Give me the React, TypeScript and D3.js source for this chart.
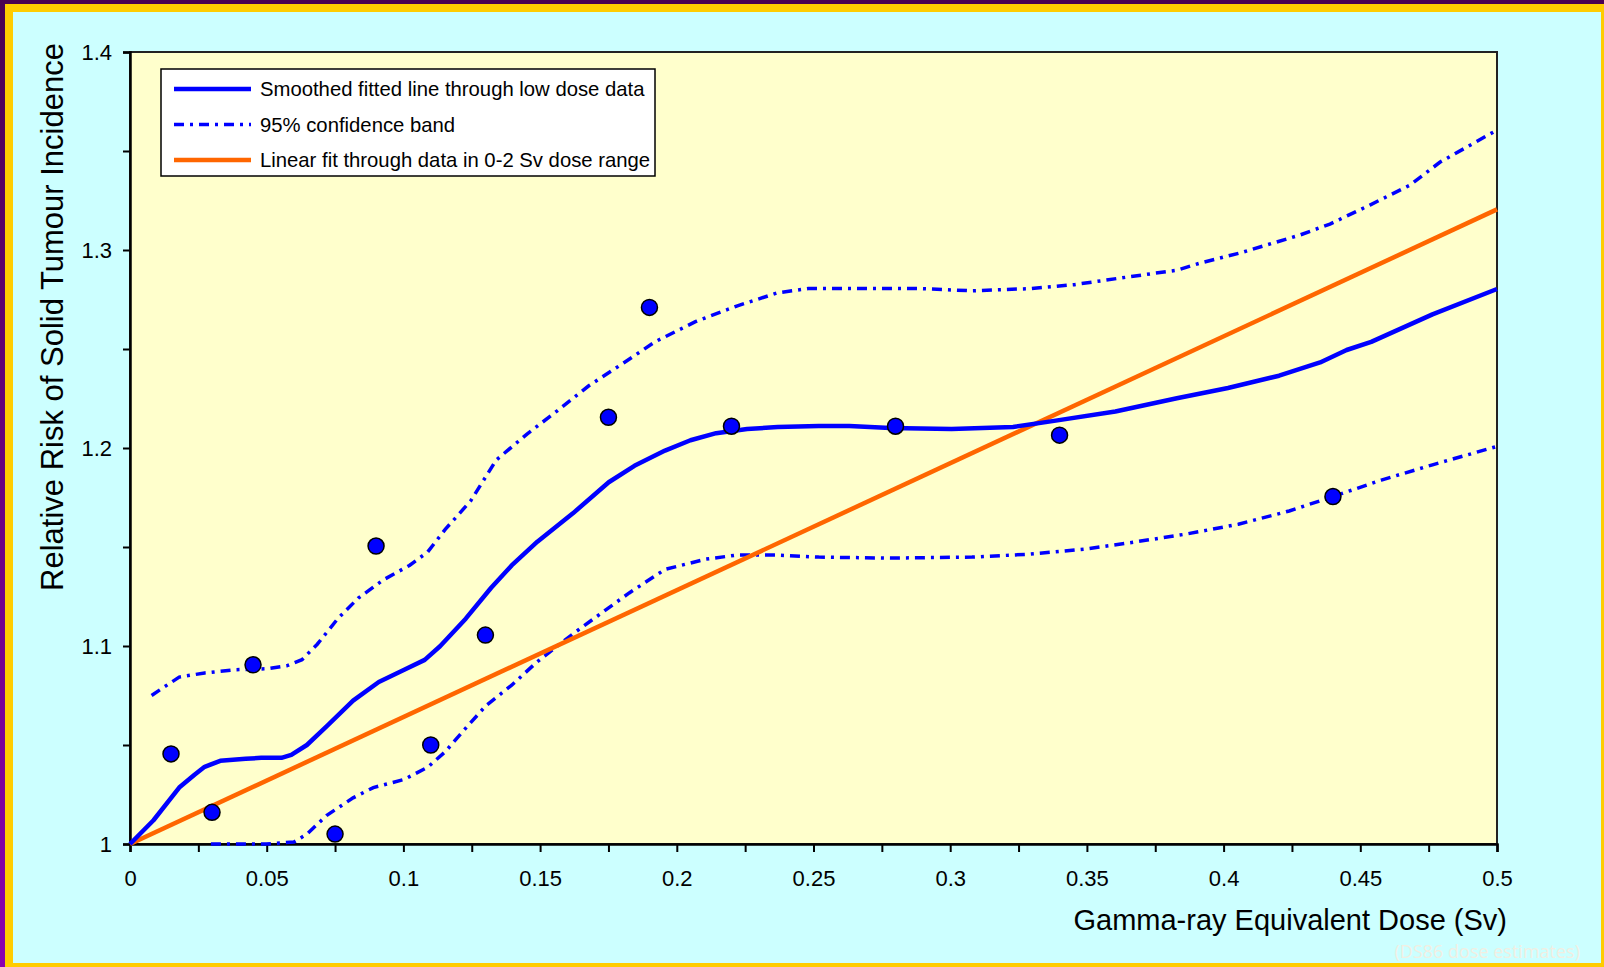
import React, { useRef, useEffect } from 'react';
import * as d3 from 'd3';

// observed points (dose in Sv, relative risk)
const pointDose = [0.015, 0.03, 0.045, 0.075, 0.09, 0.11, 0.13, 0.175, 0.19, 0.22, 0.28, 0.34, 0.44];
const pointRisk = [1.0455, 1.016, 1.0905, 1.005, 1.1505, 1.05, 1.1055, 1.2155, 1.271, 1.211, 1.211, 1.2065, 1.1755];

// smoothed fit
const smoothDose = [0, 0.0086, 0.018, 0.0236, 0.0273, 0.033, 0.0423, 0.048, 0.0554, 0.059, 0.0647, 0.072, 0.0816, 0.091, 0.1003, 0.1078, 0.1134, 0.1228, 0.1321, 0.1396, 0.149, 0.162, 0.1751, 0.1845, 0.1957, 0.205, 0.2144, 0.2257, 0.2369, 0.2519, 0.2631, 0.2781, 0.3005, 0.323, 0.338, 0.3604, 0.3829, 0.4016, 0.4203, 0.4353, 0.445, 0.454, 0.4764, 0.5];
const smoothRisk = [1.0, 1.012, 1.0285, 1.035, 1.039, 1.042, 1.043, 1.0435, 1.0435, 1.045, 1.05, 1.0595, 1.0724, 1.0818, 1.088, 1.093, 1.0999, 1.1138, 1.1294, 1.1407, 1.1527, 1.167, 1.1827, 1.191, 1.1987, 1.2039, 1.2075, 1.2096, 1.2106, 1.2111, 1.2111, 1.2101, 1.2096, 1.2106, 1.2137, 1.2184, 1.2251, 1.2303, 1.2365, 1.2432, 1.2495, 1.2536, 1.2675, 1.2803];

// 95% confidence band
const upperDose = [0.0079, 0.0124, 0.018, 0.0273, 0.0385, 0.0498, 0.0573, 0.0629, 0.0685, 0.076, 0.0835, 0.0928, 0.1022, 0.1089, 0.1153, 0.1246, 0.134, 0.1452, 0.1564, 0.1677, 0.1808, 0.192, 0.207, 0.2219, 0.2369, 0.2481, 0.2706, 0.2893, 0.308, 0.3293, 0.3454, 0.3641, 0.3829, 0.3914, 0.406, 0.428, 0.4389, 0.4535, 0.4682, 0.4792, 0.5];
const upperRisk = [1.075, 1.0792, 1.0843, 1.0864, 1.088, 1.0885, 1.09, 1.0931, 1.1009, 1.1138, 1.1242, 1.1335, 1.1407, 1.1475, 1.1589, 1.1733, 1.194, 1.207, 1.2189, 1.2313, 1.2432, 1.2536, 1.2639, 1.2717, 1.2784, 1.2805, 1.2805, 1.2805, 1.2794, 1.2805, 1.2825, 1.2862, 1.2898, 1.2934, 1.2985, 1.3076, 1.3131, 1.3227, 1.3328, 1.3444, 1.3606];
const lowerDose = [0.0296, 0.0498, 0.06, 0.0647, 0.072, 0.0816, 0.089, 0.1003, 0.1089, 0.1153, 0.1228, 0.1302, 0.1396, 0.149, 0.162, 0.1733, 0.1826, 0.1957, 0.2107, 0.2219, 0.2369, 0.2519, 0.2781, 0.308, 0.3293, 0.349, 0.3679, 0.3866, 0.4054, 0.424, 0.439, 0.4577, 0.4764, 0.5];
const lowerRisk = [1.0, 1.0, 1.001, 1.005, 1.0145, 1.0233, 1.0285, 1.0326, 1.0388, 1.0466, 1.0585, 1.0699, 1.0802, 1.0921, 1.1061, 1.1175, 1.1268, 1.1387, 1.1439, 1.1459, 1.1459, 1.1449, 1.1444, 1.1449, 1.1464, 1.1489, 1.1526, 1.1566, 1.1615, 1.1682, 1.175, 1.1838, 1.1915, 1.2008];

// linear fit through 0-2 Sv data
const linearDose = [0, 0.5];
const linearRisk = [1.0, 1.3205];

const xTickValues = [0, 0.05, 0.1, 0.15, 0.2, 0.25, 0.3, 0.35, 0.4, 0.45, 0.5];
const yTickValues = [1, 1.1, 1.2, 1.3, 1.4];
const legendLabels = [
  'Smoothed fitted line through low dose data',
  '95% confidence band',
  'Linear fit through data in 0-2 Sv dose range',
];

const W = 1604;
const H = 967;
const BLUE = '#0000ff';
const ORANGE = '#ff6600';
const CI_DASH = '10,6,3,6';
const FONT = 'Liberation Sans, Arial, sans-serif';

const RiskChart = () => {
  const svgRef = useRef<SVGSVGElement>(null);

  useEffect(() => {
    const svg = d3.select(svgRef.current);
    svg.selectAll('*').remove();

    // frame
    const defs = svg.append('defs');
    const grad = defs.append('linearGradient').attr('id', 'purple').attr('x1', 0).attr('y1', 0).attr('x2', 0).attr('y2', 1);
    grad.append('stop').attr('offset', '0%').attr('stop-color', '#4a0052');
    grad.append('stop').attr('offset', '100%').attr('stop-color', '#8a00b0');
    svg.append('rect').attr('width', W).attr('height', H).attr('fill', '#4a0052');
    svg.append('rect').attr('x', 0).attr('y', 4).attr('width', 5).attr('height', H - 4).attr('fill', 'url(#purple)');
    svg.append('rect').attr('x', 5).attr('y', 4).attr('width', W - 5).attr('height', H - 4).attr('fill', '#ffcc00');
    svg.append('rect').attr('x', 13).attr('y', 12).attr('width', 1601 - 13).attr('height', 963 - 12).attr('fill', '#ccffff');

    const margin = { top: 52, left: 130, right: W - 1497, bottom: H - 844 };
    const width = W - margin.left - margin.right;
    const height = H - margin.top - margin.bottom;

    const x = d3.scaleLinear().domain([0, 0.5]).range([0, width]);
    const y = d3.scaleLinear().domain([1, 1.4]).range([height, 0]);

    const g = svg.append('g').attr('transform', `translate(${margin.left},${margin.top})`);

    g.append('rect').attr('width', width).attr('height', height).attr('fill', '#ffffcc')
      .attr('stroke', '#222').attr('stroke-width', 2);

    // axes
    const xAxis = g.append('g').attr('transform', `translate(0,${height})`)
      .call(d3.axisBottom(x).tickValues(d3.range(0, 0.5001, 0.025)).tickSize(8)
        .tickFormat(d => (xTickValues.some(v => Math.abs(v - +d) < 1e-9) ? d3.format('~g')(+d) : '')));
    xAxis.select('.domain').attr('stroke', '#000').attr('stroke-width', 2.5);
    xAxis.selectAll('line').attr('stroke', '#000').attr('stroke-width', 2);
    xAxis.selectAll('text').attr('font-family', FONT).attr('font-size', 22)
      .attr('fill', '#000').attr('dy', '0').attr('y', 42);

    const yAxis = g.append('g')
      .call(d3.axisLeft(y).tickValues(d3.range(1, 1.4001, 0.05)).tickSize(7)
        .tickFormat(d => (yTickValues.some(v => Math.abs(v - +d) < 1e-9) ? d3.format('~g')(+d) : '')));
    yAxis.select('.domain').attr('stroke', '#000').attr('stroke-width', 2.5);
    yAxis.selectAll('line').attr('stroke', '#000').attr('stroke-width', 2);
    yAxis.selectAll('text').attr('font-family', FONT).attr('font-size', 22)
      .attr('fill', '#000').attr('x', -18);

    const clip = defs.append('clipPath').attr('id', 'plotclip');
    clip.append('rect').attr('x', -3).attr('y', -3).attr('width', width + 6).attr('height', height + 6);
    const plot = g.append('g').attr('clip-path', 'url(#plotclip)');

    const line = d3.line<[number, number]>().x(d => x(d[0])).y(d => y(d[1]));

    plot.append('path').datum(d3.zip(upperDose, upperRisk) as [number, number][])
      .attr('fill', 'none').attr('stroke', BLUE).attr('stroke-width', 3.5).attr('stroke-dasharray', CI_DASH).attr('d', line);
    plot.append('path').datum(d3.zip(lowerDose, lowerRisk) as [number, number][])
      .attr('fill', 'none').attr('stroke', BLUE).attr('stroke-width', 3.5).attr('stroke-dasharray', CI_DASH).attr('d', line);
    plot.append('path').datum(d3.zip(linearDose, linearRisk) as [number, number][])
      .attr('fill', 'none').attr('stroke', ORANGE).attr('stroke-width', 4.5).attr('d', line);
    plot.append('path').datum(d3.zip(smoothDose, smoothRisk) as [number, number][])
      .attr('fill', 'none').attr('stroke', BLUE).attr('stroke-width', 4.5).attr('stroke-linejoin', 'round').attr('d', line);

    plot.selectAll('circle').data(d3.zip(pointDose, pointRisk)).join('circle')
      .attr('cx', d => x(d[0])).attr('cy', d => y(d[1])).attr('r', 8)
      .attr('fill', BLUE).attr('stroke', '#000').attr('stroke-width', 1.5);

    // legend
    const lg = svg.append('g').attr('transform', 'translate(161,69)');
    lg.append('rect').attr('width', 494).attr('height', 107).attr('fill', '#ffffff').attr('stroke', '#000').attr('stroke-width', 1.5);
    const styles = [
      { stroke: BLUE, dash: null, w: 4.5 },
      { stroke: BLUE, dash: CI_DASH, w: 3.5 },
      { stroke: ORANGE, dash: null, w: 4.5 },
    ];
    legendLabels.forEach((label, i) => {
      const cy = 20 + i * 35.5;
      lg.append('line').attr('x1', 13).attr('x2', 90).attr('y1', cy).attr('y2', cy)
        .attr('stroke', styles[i].stroke).attr('stroke-width', styles[i].w)
        .attr('stroke-dasharray', styles[i].dash);
      lg.append('text').attr('x', 99).attr('y', cy).attr('dy', '0.35em')
        .attr('font-family', FONT).attr('font-size', 20.3).attr('fill', '#000')
        .text(label);
    });

    // axis titles
    svg.append('text').attr('x', 1507).attr('y', 930).attr('text-anchor', 'end')
      .attr('font-family', FONT).attr('font-size', 29).attr('fill', '#000')
      .text('Gamma-ray Equivalent Dose (Sv)');
    svg.append('text').attr('transform', 'translate(63,317) rotate(-90)').attr('text-anchor', 'middle')
      .attr('font-family', FONT).attr('font-size', 31).attr('fill', '#000')
      .text('Relative Risk of Solid Tumour Incidence');

    svg.append('text').attr('x', 1580).attr('y', 958).attr('text-anchor', 'end')
      .attr('font-family', 'Open Sans, sans-serif').attr('font-size', 18).attr('fill', '#f2eee2')
      .text('(DS86 dose estimates)');
  }, []);

  return <svg ref={svgRef} width={W} height={H} style={{ display: 'block' }}></svg>;
};

export default function App() {
  return (
    <div style={{ position: 'fixed', left: 0, top: 0 }}>
      <RiskChart />
    </div>
  );
}
